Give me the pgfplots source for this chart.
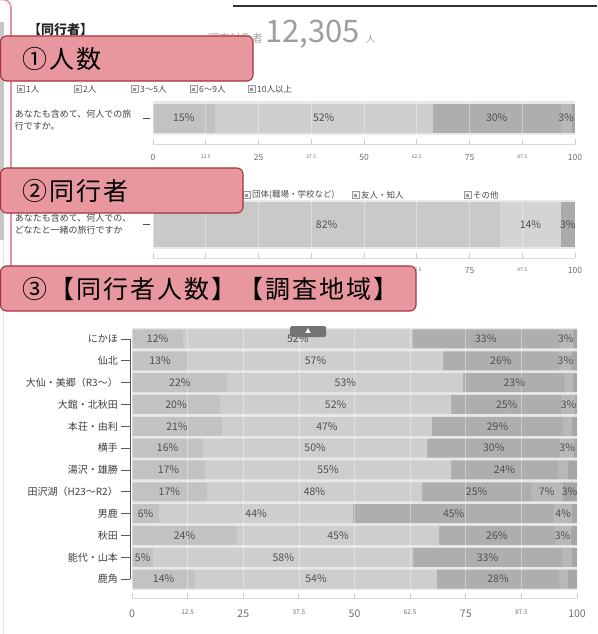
\documentclass[border=0pt]{standalone}
\usepackage{pgfplots}
\pgfplotsset{compat=1.18}
\usepackage{pgfplotstable}
\usepackage{fontspec}
\setmainfont{Noto Sans CJK JP}
\definecolor{pinkfill}{HTML}{E8979F}
\definecolor{pinkdraw}{HTML}{A63340}
\definecolor{pinkline}{HTML}{E3939C}
\definecolor{cA}{HTML}{C2C2C2}
\definecolor{cB}{HTML}{CECECE}
\definecolor{cC}{HTML}{AEAEAE}
\definecolor{cD}{HTML}{B8B8B8}
\definecolor{cE}{HTML}{A6A6A6}
\definecolor{bgc}{HTML}{E8E8E8}
\definecolor{lbl}{HTML}{505050}
\definecolor{tickc}{HTML}{707070}

\pgfplotstableread{
y a la b lb c lc d ld e le
1 14.6 15\% 51.7 52\% 30.3 30\% 2.6 3\% 0.8 {}
}\dataA

\pgfplotstableread{
y a la b lb c lc
1 82.3 82\% 14.3 14\% 3.4 3\%
}\dataB

\pgfplotstableread{
y  a    la     b    lb     c    lc     d   ld    e   le
1  11.5 12\%  51.5 52\%  33.0 33\%  3.0 3\%  1.0 {}
2  12.6 13\%  57.3 57\%  26.0 26\%  3.0 3\%  1.1 {}
3  21.5 22\%  52.9 53\%  23.0 23\%  1.7 {}   0.9 {}
4  19.8 20\%  51.9 52\%  25.0 25\%  2.8 3\%  0.5 {}
5  20.2 21\%  47.2 47\%  29.5 29\%  2.0 {}   1.1 {}
6  16.0 16\%  50.3 50\%  30.0 30\%  3.0 3\%  0.7 {}
7  16.4 17\%  55.3 55\%  24.0 24\%  2.3 {}   2.0 {}
8  16.8 17\%  48.4 48\%  24.5 25\%  7.0 7\%  3.3 3\%
9  6.1  6\%   43.6 44\%  45.2 45\%  4.0 4\%  1.1 {}
10 23.6 24\%  45.4 45\%  26.0 26\%  3.5 3\%  1.5 {}
11 4.8  5\%   58.4 58\%  33.4 33\%  2.3 {}   1.1 {}
12 14.2 14\%  54.3 54\%  27.5 28\%  2.0 {}   2.0 {}
}\dataC

\newcommand{\seg}[3]{\addplot[fill=#3, draw=none] table[x=#2, y=y, meta=l#2] {#1};}

\pgfplotsset{
  stackbar/.style={
    xbar stacked, xmin=0, xmax=100, enlargelimits=false,
    scale only axis, axis on top,
    axis background/.style={fill=bgc},
    axis x line*=bottom, axis y line*=left,
    y axis line style={draw=none},
    x axis line style={draw=black!15, line width=0.8pt},
    xtick={0,25,50,75,100},
    extra x ticks={12.5,37.5,62.5,87.5},
    xmajorgrids, grid style={draw=white, opacity=0.35, line width=0.6pt},
    tick align=inside, major tick length=5pt,
    x tick style={draw=black!20, line width=0.8pt},
    ytick style={draw=none},
    point meta=explicit symbolic,
    nodes near coords={\pgfplotspointmeta},
    /pgf/number format/assume math mode=true,
  },
}

\newcommand{\legitem}[3]{%
  \draw[black!40, fill=black!5, line width=0.5pt] ({#1},{#2-3.5}) rectangle ++(7,7);
  \fill[black!40] ({#1+2},{#2-1.5}) rectangle ++(3,3);
  \node[anchor=west, inner sep=0pt, font=\fontsize{8.5}{10}\selectfont, text=black!70] at ({#1+9},{#2}) {#3};
}
\newcommand{\boxfont}{\fontsize{25}{28}\selectfont\addfontfeatures{LetterSpace=8}}

\begin{document}
\begin{tikzpicture}[x=1pt, y=1pt]
\useasboundingbox (0,0) rectangle (597,-634);
\fill[white] (0,0) rectangle (597,-634);

% frame bits
\fill[black!22] (0,-22) rectangle (3.5,-240);
\draw[black!10, line width=0.8pt] (3,-240) -- (3,-634);
\draw[black!80, line width=2.2pt] (233,-6) -- (597,-6);

% header
\node[anchor=base west, inner sep=0pt, font=\fontsize{13}{15}\selectfont\bfseries, text=black!85] at (28,-35) {【同行者】};
\node[anchor=base east, inner sep=0pt, font=\fontsize{11}{13}\selectfont, text=black!35] at (263,-43) {調査対象者};
\node[anchor=base west, inner sep=0pt, font=\fontsize{31}{34}\selectfont, text=black!38] at (265,-43) {12,305};
\node[anchor=base west, inner sep=0pt, font=\fontsize{9}{10}\selectfont, text=black!38] at (366,-43) {人};

% legend 1
\legitem{17}{-89}{1人}
\legitem{74}{-89}{2人}
\legitem{131}{-89}{3～5人}
\legitem{190}{-89}{6～9人}
\legitem{248}{-89}{10人以上}

% legend 2 (visible part)
\legitem{243}{-195}{団体(職場・学校など)}
\legitem{352}{-195}{友人・知人}
\legitem{464}{-195}{その他}

% chart 1
\begin{axis}[stackbar,
  at={(153pt,-101pt)}, anchor=north west,
  width=422pt, height=34pt, bar width=29pt,
  ymin=0.5, ymax=1.5,
  axis x line shift=9pt,
  xticklabel style={font=\fontsize{8.5}{10}\selectfont, text=tickc, yshift=-7pt},
  extra x tick style={grid=major, xticklabel style={font=\fontsize{5}{6}\selectfont}},
  ytick={1}, yticklabels={{あなたも含めて、何人での旅\\行ですか。}},
  yticklabel style={align=left, text width=126pt, anchor=east, inner sep=0pt, xshift=-12pt, yshift=-2pt, font=\fontsize{9}{12}\selectfont, text=black!75},
  every node near coord/.append style={anchor=center, font=\fontsize{10.5}{12}\selectfont, text=lbl},
  after end axis/.code={\draw[black!70, line width=0.8pt] ([xshift=-3pt]axis cs:0,1) -- ([xshift=-10pt]axis cs:0,1);},
]
\seg{\dataA}{a}{cA}
\seg{\dataA}{b}{cB}
\seg{\dataA}{c}{cC}
\seg{\dataA}{d}{cD}
\seg{\dataA}{e}{cE}
\end{axis}

% chart 2
\begin{axis}[stackbar,
  at={(153pt,-200pt)}, anchor=north west,
  width=422pt, height=49pt, bar width=45pt,
  ymin=0.5, ymax=1.5,
  axis x line shift=9pt,
  xticklabel style={font=\fontsize{8.5}{10}\selectfont, text=tickc, yshift=-6pt},
  extra x tick style={grid=major, xticklabel style={font=\fontsize{5}{6}\selectfont}},
  ytick={1}, yticklabels={{あなたも含めて、何人での、\\どなたと一緒の旅行ですか}},
  yticklabel style={align=left, text width=126pt, anchor=east, inner sep=0pt, xshift=-12pt, font=\fontsize{9}{12}\selectfont, text=black!75},
  every node near coord/.append style={anchor=center, font=\fontsize{10.5}{12}\selectfont, text=lbl},
  after end axis/.code={\draw[black!70, line width=0.8pt] ([xshift=-3pt]axis cs:0,1) -- ([xshift=-10pt]axis cs:0,1);},
]
\addplot[fill=black!21, draw=none] table[x=a, y=y, meta=la] {\dataB};
\addplot[fill=black!17, draw=none] table[x=b, y=y, meta=lb] {\dataB};
\addplot[fill=black!33, draw=none] table[x=c, y=y, meta=lc] {\dataB};
\end{axis}

% chart 3
\begin{axis}[stackbar,
  at={(132pt,-328pt)}, anchor=north west,
  width=445pt, height=262pt, bar width=19pt,
  ymin=0.5, ymax=12.5, y dir=reverse,
  axis x line shift=8pt,
  xticklabel style={font=\fontsize{10.5}{12}\selectfont, text=tickc, yshift=-8pt},
  extra x tick style={grid=major, xticklabel style={font=\fontsize{6.5}{7}\selectfont}},
  ytick={1,...,12},
  yticklabels={にかほ,仙北,大仙・美郷（R3～）,大館・北秋田,本荘・由利,横手,湯沢・雄勝,田沢湖（H23～R2）,男鹿,秋田,能代・山本,鹿角},
  yticklabel style={anchor=east, inner sep=0pt, xshift=-14pt, font=\fontsize{10}{11}\selectfont, text=black!75},
  every node near coord/.append style={anchor=center, font=\fontsize{10.5}{12}\selectfont, text=lbl},
  after end axis/.code={
    \draw[black!65, line width=0.8pt] ([xshift=-2pt]axis cs:0,1) -- ([xshift=-2pt]axis cs:0,12);
    \foreach \i in {1,...,12}{\draw[black!65, line width=0.8pt] ([xshift=-2pt]axis cs:0,\i) -- ([xshift=-11pt]axis cs:0,\i);}
  },
]
\seg{\dataC}{a}{cA}
\seg{\dataC}{b}{cB}
\seg{\dataC}{c}{cC}
\seg{\dataC}{d}{cD}
\seg{\dataC}{e}{cE}
\end{axis}

% small tab
\fill[black!55, rounded corners=1.5pt] (290,-326) rectangle (326,-337);
\node[text=white, font=\fontsize{6}{7}\selectfont, inner sep=0pt] at (308,-331) {▲};

% pink bracket line
\draw[pinkline, line width=1.6pt, rounded corners=8pt] (0,0.5) -- (11,0.5) -- (11,-300);

% pink boxes
\draw[fill=pinkfill, draw=pinkdraw, line width=1.1pt, rounded corners=6pt] (0.5,-36) rectangle (253,-81);
\node[anchor=west, inner sep=0pt, font=\boxfont] at (22,-59) {①人数};
\draw[fill=pinkfill, draw=pinkdraw, line width=1.1pt, rounded corners=6pt] (0.5,-168) rectangle (243,-213);
\node[anchor=west, inner sep=0pt, font=\boxfont] at (22,-191) {②同行者};
\draw[fill=pinkfill, draw=pinkdraw, line width=1.1pt, rounded corners=6pt] (0.5,-266) rectangle (416,-311);
\node[anchor=west, inner sep=0pt, font=\boxfont] at (22,-289) {③【同行者人数】【調査地域】};
\end{tikzpicture}
\end{document}
